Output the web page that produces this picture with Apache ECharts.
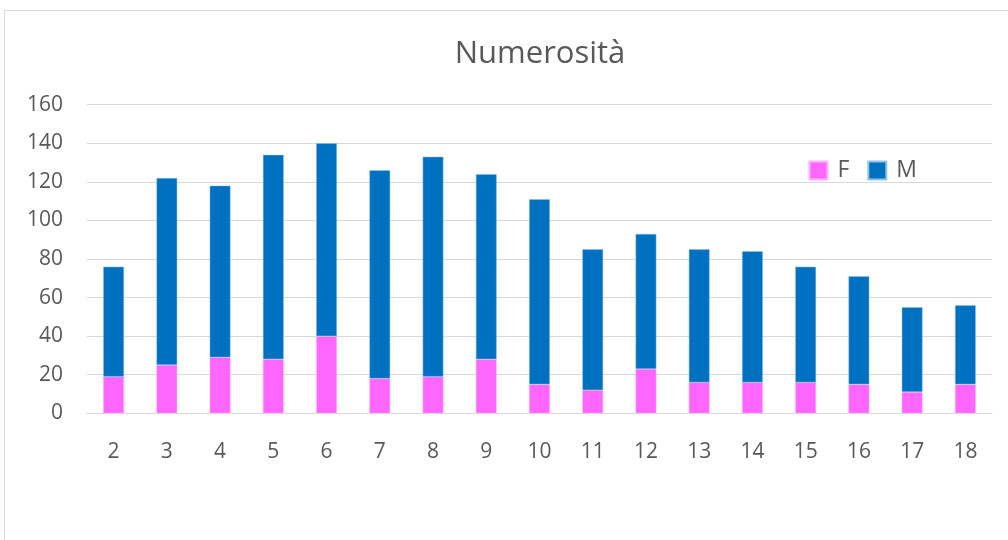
<!DOCTYPE html>
<html><head><meta charset="utf-8">
<script src="https://cdn.jsdelivr.net/npm/echarts@6/dist/echarts.min.js"></script>
<style>
html,body{margin:0;padding:0;background:#fff;width:1008px;height:540px;overflow:hidden}
#frame{position:absolute;left:4px;top:10px;width:1100px;height:600px;border:1px solid #d9d9d9;box-sizing:border-box}
#c{position:absolute;left:0;top:0;width:1008px;height:540px}
</style></head>
<body>
<div id="frame"></div>
<div id="c"></div>
<script>
const categories = ['2','3','4','5','6','7','8','9','10','11','12','13','14','15','16','17','18'];
const femmine = [19,25,29,28,40,18,19,28,15,12,23,16,16,16,15,11,15];
const maschi = [57,97,89,106,100,108,114,96,96,73,70,69,68,60,56,44,41];
const yTicks = {min:0, max:160, interval:20};

const chart = echarts.init(document.getElementById('c'), null, {renderer:'canvas'});
const font = 'Open Sans, Noto Sans, sans-serif';
chart.setOption({
  animation:false,
  backgroundColor:'transparent',
  title:{text:'Numerosità', left:540, textAlign:'center', top:39, padding:0,
    textStyle:{fontFamily:font, fontSize:31, fontWeight:'normal', color:'#595959'}},
  legend:{right:91, top:159, itemWidth:18, itemHeight:18, itemGap:18, padding:0,
    icon:'rect',
    textStyle:{fontFamily:font, fontSize:23, color:'#595959', padding:[0,0,0,5]},
    data:['F','M']},
  grid:{left:87, right:16, top:104.7, bottom:126.7},
  xAxis:{type:'category', data:categories,
    axisLine:{lineStyle:{color:'#d9d9d9', width:1}},
    axisTick:{show:false},
    axisLabel:{fontFamily:font, fontSize:21, color:'#595959', margin:28}},
  yAxis:{type:'value', min:yTicks.min, max:yTicks.max, interval:yTicks.interval,
    axisLine:{show:false}, axisTick:{show:false},
    splitLine:{lineStyle:{color:'#d9d9d9', width:1}},
    axisLabel:{fontFamily:font, fontSize:21, color:'#595959', margin:24}},
  series:[
    {name:'F', type:'bar', stack:'tot', data:femmine, barWidth:'39%',
      itemStyle:{color:'#FF66FF', borderColor:'#ffb3ff', borderWidth:0.5}},
    {name:'M', type:'bar', stack:'tot', data:maschi, barWidth:'39%',
      itemStyle:{color:'#0070C0', borderColor:'#8fc1ea', borderWidth:0.5}}
  ]
});
</script>
</body></html>
